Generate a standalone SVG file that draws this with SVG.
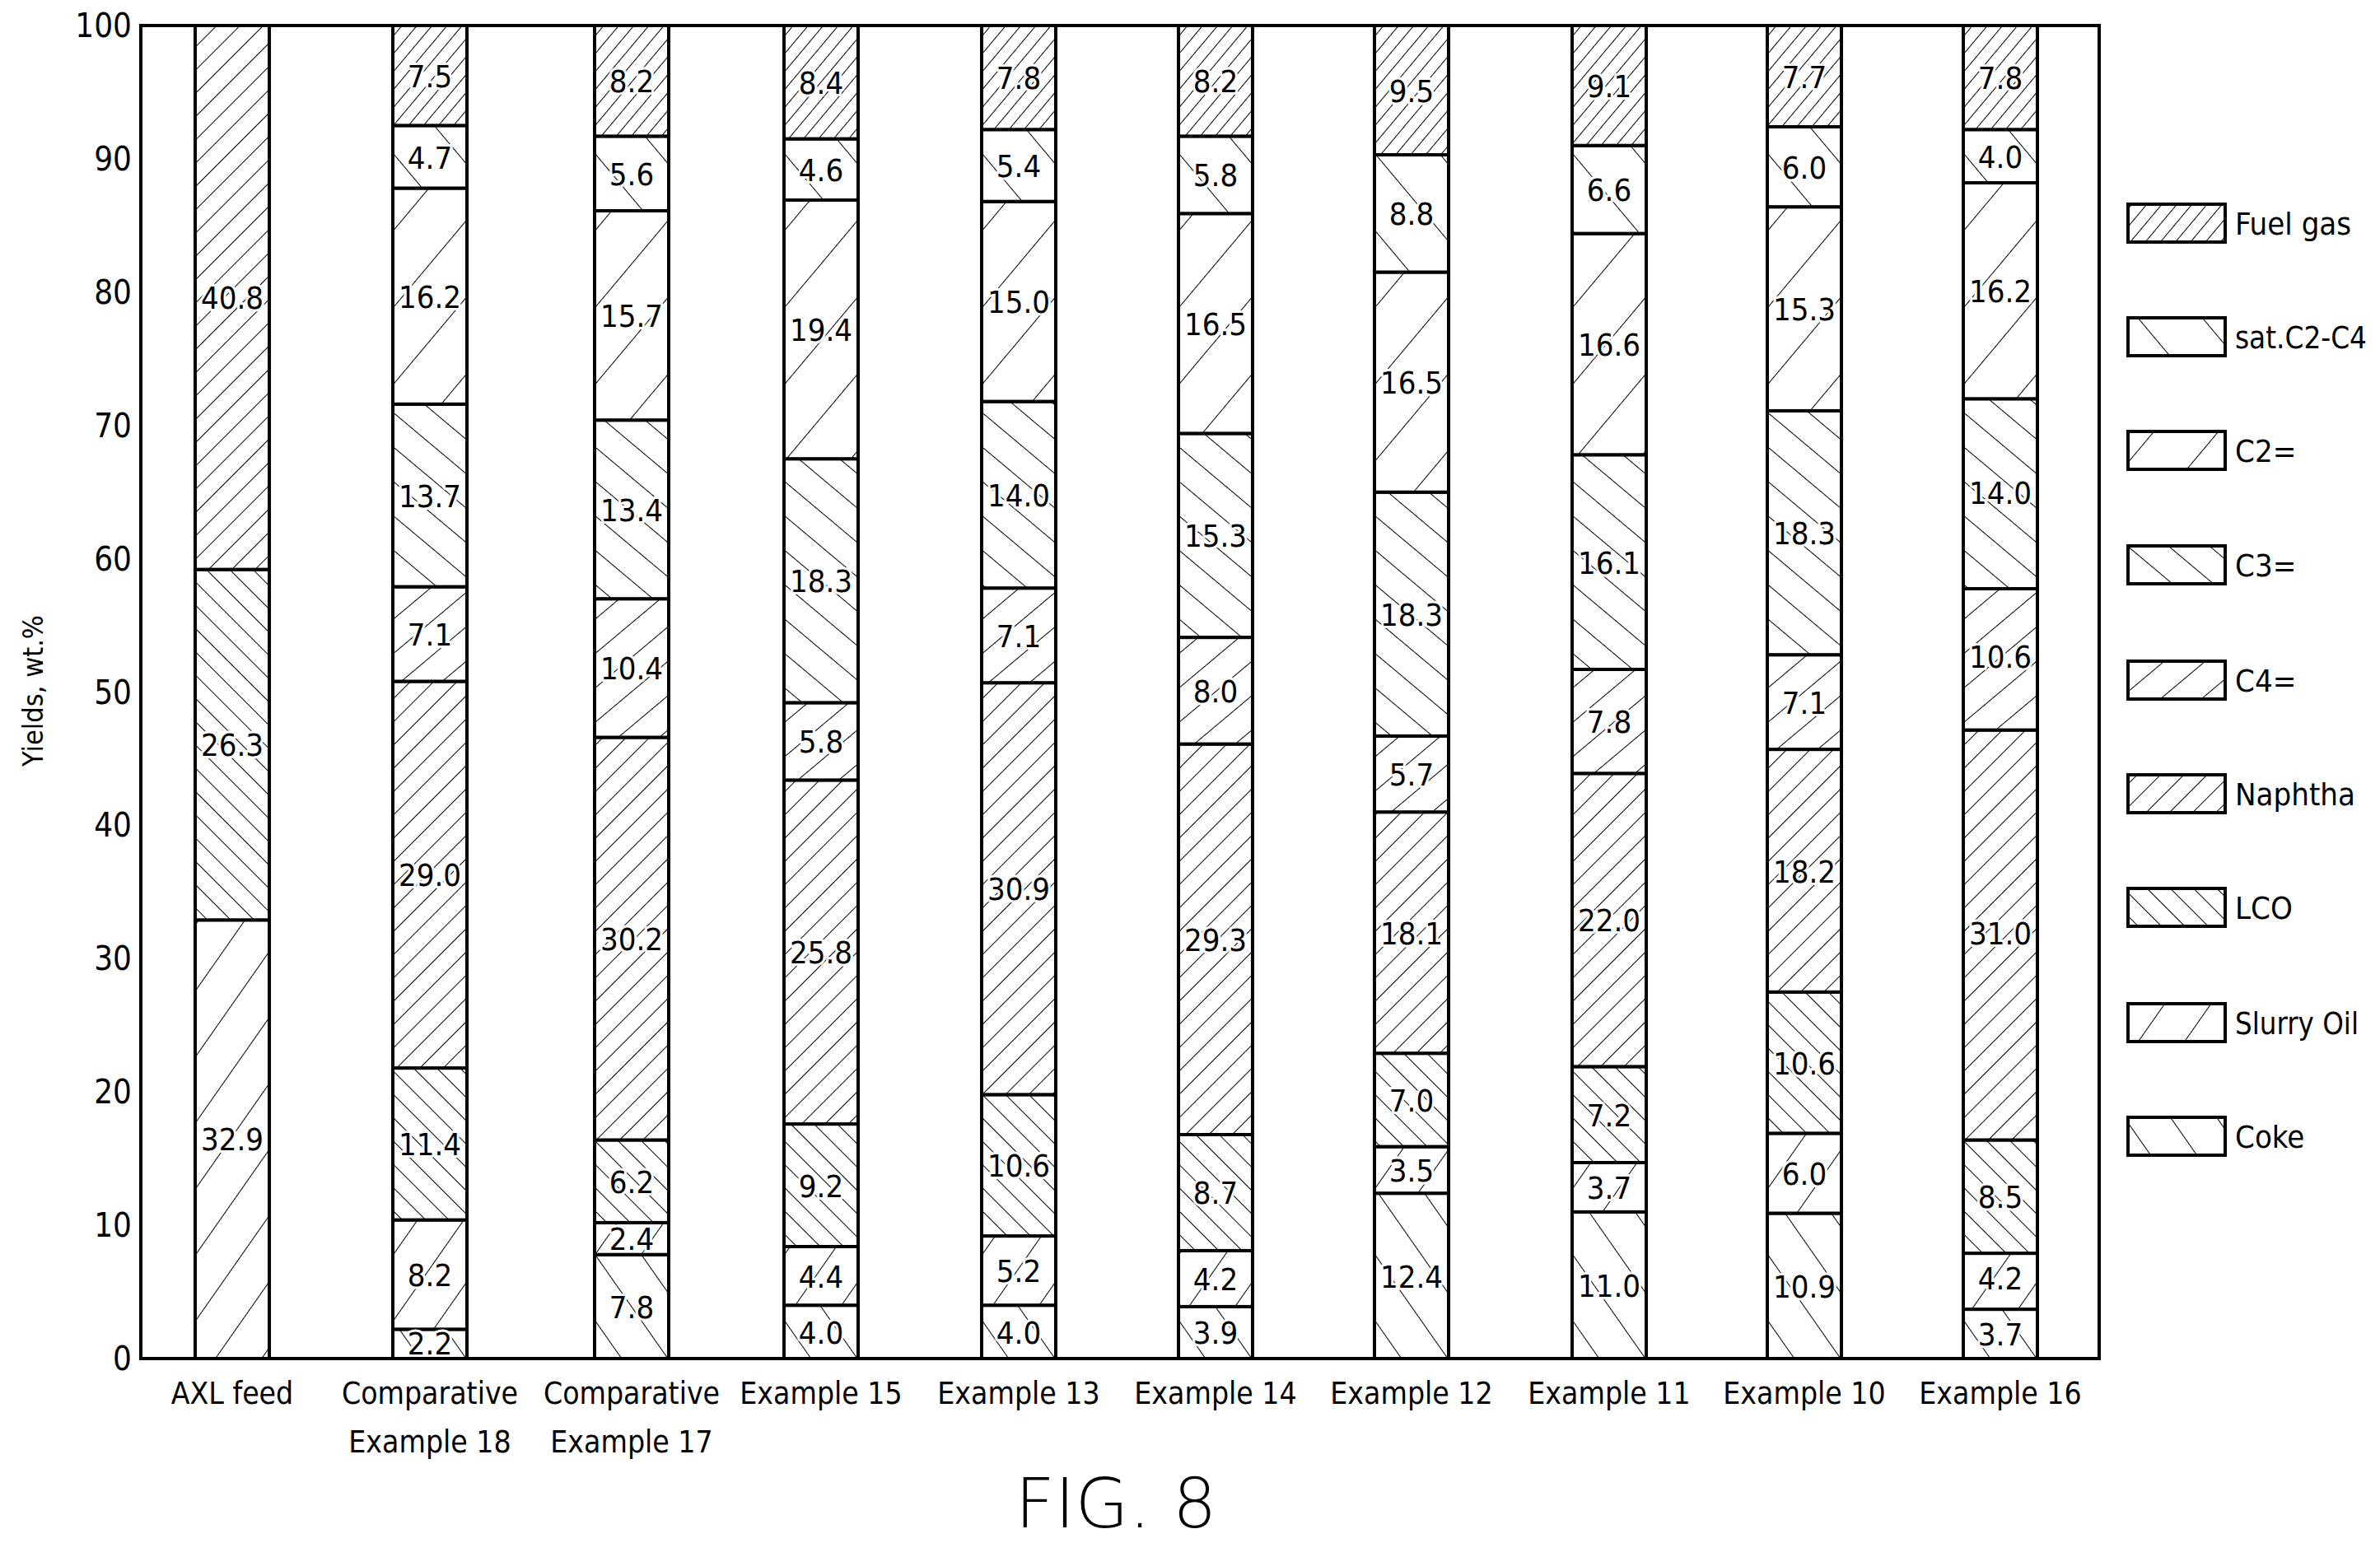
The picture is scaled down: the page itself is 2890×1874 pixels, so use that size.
<svg xmlns="http://www.w3.org/2000/svg" width="2890" height="1874" viewBox="0 0 2890 1874">
<style>
text{font-family:"DejaVu Sans Condensed","DejaVu Sans",sans-serif;font-stretch:condensed;fill:#000}
.v{font-size:38px;text-anchor:middle;stroke:#fff;stroke-width:6px;paint-order:stroke;stroke-linejoin:round}
.t{font-size:40px;text-anchor:end}
.x{font-size:37px;text-anchor:middle}
.l{font-size:38px}
.s{stroke:#000;stroke-width:4}
.fg{fill:url(#pfg)}.sat{fill:url(#psat)}.c2{fill:url(#pc2)}.c3{fill:url(#pc3)}.c4{fill:url(#pc4)}.na{fill:url(#pna)}.lco{fill:url(#plco)}.so{fill:url(#pso)}.ck{fill:url(#pck)}
.hl{stroke:#000;stroke-width:2}
</style>
<defs>
<pattern id="pfg" width="14" height="14" patternUnits="userSpaceOnUse" patternTransform="rotate(40)"><rect width="14" height="14" fill="#fff"/><line class="hl" x1="0" y1="0" x2="0" y2="14"/></pattern>
<pattern id="psat" width="60" height="60" patternUnits="userSpaceOnUse" patternTransform="rotate(-40)"><rect width="60" height="60" fill="#fff"/><line class="hl" x1="0" y1="0" x2="0" y2="60"/></pattern>
<pattern id="pc2" width="60" height="60" patternUnits="userSpaceOnUse" patternTransform="rotate(40)"><rect width="60" height="60" fill="#fff"/><line class="hl" x1="0" y1="0" x2="0" y2="60"/></pattern>
<pattern id="pc3" width="32" height="32" patternUnits="userSpaceOnUse" patternTransform="rotate(-50)"><rect width="32" height="32" fill="#fff"/><line class="hl" x1="0" y1="0" x2="0" y2="32"/></pattern>
<pattern id="pc4" width="32" height="32" patternUnits="userSpaceOnUse" patternTransform="rotate(50)"><rect width="32" height="32" fill="#fff"/><line class="hl" x1="0" y1="0" x2="0" y2="32"/></pattern>
<pattern id="pna" width="20" height="20" patternUnits="userSpaceOnUse" patternTransform="rotate(45)"><rect width="20" height="20" fill="#fff"/><line class="hl" x1="0" y1="0" x2="0" y2="20"/></pattern>
<pattern id="plco" width="20" height="20" patternUnits="userSpaceOnUse" patternTransform="rotate(-45)"><rect width="20" height="20" fill="#fff"/><line class="hl" x1="0" y1="0" x2="0" y2="20"/></pattern>
<pattern id="pso" width="46" height="46" patternUnits="userSpaceOnUse" patternTransform="rotate(35)"><rect width="46" height="46" fill="#fff"/><line class="hl" x1="0" y1="0" x2="0" y2="46"/></pattern>
<pattern id="pck" width="46" height="46" patternUnits="userSpaceOnUse" patternTransform="rotate(-35)"><rect width="46" height="46" fill="#fff"/><line class="hl" x1="0" y1="0" x2="0" y2="46"/></pattern>
</defs>
<rect width="2890" height="1874" fill="#fff"/>
<g id="axes">
<rect class="s" x="171" y="31" width="2378" height="1619" fill="none"/>
<text class="t" x="160" y="1664">0</text>
<text class="t" x="160" y="1502">10</text>
<text class="t" x="160" y="1340">20</text>
<text class="t" x="160" y="1178">30</text>
<text class="t" x="160" y="1016">40</text>
<text class="t" x="160" y="855">50</text>
<text class="t" x="160" y="693">60</text>
<text class="t" x="160" y="531">70</text>
<text class="t" x="160" y="369">80</text>
<text class="t" x="160" y="207">90</text>
<text class="t" x="160" y="45">100</text>
<text x="52" y="839" font-size="34" text-anchor="middle" transform="rotate(-90 52 839)">Yields, wt.%</text>
</g>
<g id="bar-axl" transform="translate(237,0)">
<rect class="s so" x="0" y="1117.3" width="90" height="532.7"/>
<rect class="s lco" x="0" y="691.6" width="90" height="425.7"/>
<rect class="s na" x="0" y="31" width="90" height="660.6"/>
<text class="v" x="45" y="1397">32.9</text><text class="v" x="45" y="918">26.3</text><text class="v" x="45" y="375">40.8</text>
<text class="x" x="45" y="1705">AXL feed</text>
</g>
<g id="bar-ce18" transform="translate(477,0)">
<rect class="s ck" x="0" y="1614.4" width="90" height="35.6"/>
<rect class="s so" x="0" y="1481.6" width="90" height="132.8"/>
<rect class="s lco" x="0" y="1297.1" width="90" height="184.5"/>
<rect class="s na" x="0" y="827.5" width="90" height="469.6"/>
<rect class="s c4" x="0" y="712.6" width="90" height="114.9"/>
<rect class="s c3" x="0" y="490.8" width="90" height="221.8"/>
<rect class="s c2" x="0" y="228.5" width="90" height="262.3"/>
<rect class="s sat" x="0" y="152.4" width="90" height="76.1"/>
<rect class="s fg" x="0" y="31" width="90" height="121.4"/>
<text class="v" x="45" y="1645">2.2</text><text class="v" x="45" y="1562">8.2</text><text class="v" x="45" y="1403">11.4</text><text class="v" x="45" y="1076">29.0</text><text class="v" x="45" y="784">7.1</text><text class="v" x="45" y="616">13.7</text><text class="v" x="45" y="374">16.2</text><text class="v" x="45" y="205">4.7</text><text class="v" x="45" y="106">7.5</text>
<text class="x" x="45" y="1705">Comparative</text><text class="x" x="45" y="1764">Example 18</text>
</g>
<g id="bar-ce17" transform="translate(722,0)">
<rect class="s ck" x="0" y="1523.7" width="90" height="126.3"/>
<rect class="s so" x="0" y="1484.9" width="90" height="38.8"/>
<rect class="s lco" x="0" y="1384.5" width="90" height="100.4"/>
<rect class="s na" x="0" y="895.5" width="90" height="489"/>
<rect class="s c4" x="0" y="727.2" width="90" height="168.3"/>
<rect class="s c3" x="0" y="510.2" width="90" height="217"/>
<rect class="s c2" x="0" y="256" width="90" height="254.2"/>
<rect class="s sat" x="0" y="165.4" width="90" height="90.6"/>
<rect class="s fg" x="0" y="31" width="90" height="134.4"/>
<text class="v" x="45" y="1601">7.8</text><text class="v" x="45" y="1518">2.4</text><text class="v" x="45" y="1449">6.2</text><text class="v" x="45" y="1154">30.2</text><text class="v" x="45" y="825">10.4</text><text class="v" x="45" y="633">13.4</text><text class="v" x="45" y="397">15.7</text><text class="v" x="45" y="225">5.6</text><text class="v" x="45" y="112">8.2</text>
<text class="x" x="45" y="1705">Comparative</text><text class="x" x="45" y="1764">Example 17</text>
</g>
<g id="bar-ex15" transform="translate(952,0)">
<rect class="s ck" x="0" y="1585.2" width="90" height="64.8"/>
<rect class="s so" x="0" y="1514" width="90" height="71.2"/>
<rect class="s lco" x="0" y="1365.1" width="90" height="148.9"/>
<rect class="s na" x="0" y="947.4" width="90" height="417.7"/>
<rect class="s c4" x="0" y="853.4" width="90" height="94"/>
<rect class="s c3" x="0" y="557.2" width="90" height="296.2"/>
<rect class="s c2" x="0" y="243" width="90" height="314.2"/>
<rect class="s sat" x="0" y="168.6" width="90" height="74.4"/>
<rect class="s fg" x="0" y="31" width="90" height="137.6"/>
<text class="v" x="45" y="1632">4.0</text><text class="v" x="45" y="1564">4.4</text><text class="v" x="45" y="1454">9.2</text><text class="v" x="45" y="1170">25.8</text><text class="v" x="45" y="914">5.8</text><text class="v" x="45" y="719">18.3</text><text class="v" x="45" y="414">19.4</text><text class="v" x="45" y="220">4.6</text><text class="v" x="45" y="114">8.4</text>
<text class="x" x="45" y="1705">Example 15</text>
</g>
<g id="bar-ex13" transform="translate(1192,0)">
<rect class="s ck" x="0" y="1585.2" width="90" height="64.8"/>
<rect class="s so" x="0" y="1501.1" width="90" height="84.1"/>
<rect class="s lco" x="0" y="1329.4" width="90" height="171.7"/>
<rect class="s na" x="0" y="829.2" width="90" height="500.2"/>
<rect class="s c4" x="0" y="714.2" width="90" height="115"/>
<rect class="s c3" x="0" y="487.6" width="90" height="226.6"/>
<rect class="s c2" x="0" y="244.7" width="90" height="242.9"/>
<rect class="s sat" x="0" y="157.3" width="90" height="87.4"/>
<rect class="s fg" x="0" y="31" width="90" height="126.3"/>
<text class="v" x="45" y="1632">4.0</text><text class="v" x="45" y="1557">5.2</text><text class="v" x="45" y="1429">10.6</text><text class="v" x="45" y="1093">30.9</text><text class="v" x="45" y="786">7.1</text><text class="v" x="45" y="615">14.0</text><text class="v" x="45" y="380">15.0</text><text class="v" x="45" y="215">5.4</text><text class="v" x="45" y="108">7.8</text>
<text class="x" x="45" y="1705">Example 13</text>
</g>
<g id="bar-ex14" transform="translate(1431,0)">
<rect class="s ck" x="0" y="1586.9" width="90" height="63.1"/>
<rect class="s so" x="0" y="1518.9" width="90" height="68"/>
<rect class="s lco" x="0" y="1378" width="90" height="140.9"/>
<rect class="s na" x="0" y="903.6" width="90" height="474.4"/>
<rect class="s c4" x="0" y="774.1" width="90" height="129.5"/>
<rect class="s c3" x="0" y="526.4" width="90" height="247.7"/>
<rect class="s c2" x="0" y="259.3" width="90" height="267.1"/>
<rect class="s sat" x="0" y="165.4" width="90" height="93.9"/>
<rect class="s fg" x="0" y="31" width="90" height="134.4"/>
<text class="v" x="45" y="1632">3.9</text><text class="v" x="45" y="1567">4.2</text><text class="v" x="45" y="1462">8.7</text><text class="v" x="45" y="1155">29.3</text><text class="v" x="45" y="853">8.0</text><text class="v" x="45" y="664">15.3</text><text class="v" x="45" y="407">16.5</text><text class="v" x="45" y="226">5.8</text><text class="v" x="45" y="112">8.2</text>
<text class="x" x="45" y="1705">Example 14</text>
</g>
<g id="bar-ex12" transform="translate(1669,0)">
<rect class="s ck" x="0" y="1449.2" width="90" height="200.8"/>
<rect class="s so" x="0" y="1392.6" width="90" height="56.6"/>
<rect class="s lco" x="0" y="1279.2" width="90" height="113.4"/>
<rect class="s na" x="0" y="986.2" width="90" height="293"/>
<rect class="s c4" x="0" y="893.9" width="90" height="92.3"/>
<rect class="s c3" x="0" y="597.7" width="90" height="296.2"/>
<rect class="s c2" x="0" y="330.5" width="90" height="267.2"/>
<rect class="s sat" x="0" y="188" width="90" height="142.5"/>
<rect class="s fg" x="0" y="31" width="90" height="157"/>
<text class="v" x="45" y="1564">12.4</text><text class="v" x="45" y="1435">3.5</text><text class="v" x="45" y="1350">7.0</text><text class="v" x="45" y="1147">18.1</text><text class="v" x="45" y="954">5.7</text><text class="v" x="45" y="760">18.3</text><text class="v" x="45" y="478">16.5</text><text class="v" x="45" y="273">8.8</text><text class="v" x="45" y="124">9.5</text>
<text class="x" x="45" y="1705">Example 12</text>
</g>
<g id="bar-ex11" transform="translate(1909,0)">
<rect class="s ck" x="0" y="1471.9" width="90" height="178.1"/>
<rect class="s so" x="0" y="1412" width="90" height="59.9"/>
<rect class="s lco" x="0" y="1295.4" width="90" height="116.6"/>
<rect class="s na" x="0" y="939.3" width="90" height="356.1"/>
<rect class="s c4" x="0" y="813" width="90" height="126.3"/>
<rect class="s c3" x="0" y="552.3" width="90" height="260.7"/>
<rect class="s c2" x="0" y="283.6" width="90" height="268.7"/>
<rect class="s sat" x="0" y="176.7" width="90" height="106.9"/>
<rect class="s fg" x="0" y="31" width="90" height="145.7"/>
<text class="v" x="45" y="1575">11.0</text><text class="v" x="45" y="1456">3.7</text><text class="v" x="45" y="1368">7.2</text><text class="v" x="45" y="1131">22.0</text><text class="v" x="45" y="890">7.8</text><text class="v" x="45" y="697">16.1</text><text class="v" x="45" y="432">16.6</text><text class="v" x="45" y="244">6.6</text><text class="v" x="45" y="118">9.1</text>
<text class="x" x="45" y="1705">Example 11</text>
</g>
<g id="bar-ex10" transform="translate(2146,0)">
<rect class="s ck" x="0" y="1473.5" width="90" height="176.5"/>
<rect class="s so" x="0" y="1376.4" width="90" height="97.1"/>
<rect class="s lco" x="0" y="1204.8" width="90" height="171.6"/>
<rect class="s na" x="0" y="910.1" width="90" height="294.7"/>
<rect class="s c4" x="0" y="795.2" width="90" height="114.9"/>
<rect class="s c3" x="0" y="498.9" width="90" height="296.3"/>
<rect class="s c2" x="0" y="251.2" width="90" height="247.7"/>
<rect class="s sat" x="0" y="154" width="90" height="97.2"/>
<rect class="s fg" x="0" y="31" width="90" height="123"/>
<text class="v" x="45" y="1576">10.9</text><text class="v" x="45" y="1439">6.0</text><text class="v" x="45" y="1305">10.6</text><text class="v" x="45" y="1072">18.2</text><text class="v" x="45" y="867">7.1</text><text class="v" x="45" y="661">18.3</text><text class="v" x="45" y="389">15.3</text><text class="v" x="45" y="217">6.0</text><text class="v" x="45" y="107">7.7</text>
<text class="x" x="45" y="1705">Example 10</text>
</g>
<g id="bar-ex16" transform="translate(2384,0)">
<rect class="s ck" x="0" y="1590.1" width="90" height="59.9"/>
<rect class="s so" x="0" y="1522.1" width="90" height="68"/>
<rect class="s lco" x="0" y="1384.5" width="90" height="137.6"/>
<rect class="s na" x="0" y="886.6" width="90" height="497.9"/>
<rect class="s c4" x="0" y="715" width="90" height="171.6"/>
<rect class="s c3" x="0" y="484.3" width="90" height="230.7"/>
<rect class="s c2" x="0" y="222" width="90" height="262.3"/>
<rect class="s sat" x="0" y="157.3" width="90" height="64.7"/>
<rect class="s fg" x="0" y="31" width="90" height="126.3"/>
<text class="v" x="45" y="1634">3.7</text><text class="v" x="45" y="1566">4.2</text><text class="v" x="45" y="1467">8.5</text><text class="v" x="45" y="1147">31.0</text><text class="v" x="45" y="811">10.6</text><text class="v" x="45" y="612">14.0</text><text class="v" x="45" y="367">16.2</text><text class="v" x="45" y="204">4.0</text><text class="v" x="45" y="108">7.8</text>
<text class="x" x="45" y="1705">Example 16</text>
</g>
<g id="legend">
<rect class="s fg" x="2584" y="248" width="118" height="46"/><text class="l" x="2714" y="285">Fuel gas</text>
<rect class="s sat" x="2584" y="386" width="118" height="46"/><text class="l" x="2714" y="423" textLength="160" lengthAdjust="spacingAndGlyphs">sat.C2-C4</text>
<rect class="s c2" x="2584" y="524" width="118" height="46"/><text class="l" x="2714" y="561">C2=</text>
<rect class="s c3" x="2584" y="663" width="118" height="46"/><text class="l" x="2714" y="700">C3=</text>
<rect class="s c4" x="2584" y="803" width="118" height="46"/><text class="l" x="2714" y="840">C4=</text>
<rect class="s na" x="2584" y="941" width="118" height="46"/><text class="l" x="2714" y="978">Naphtha</text>
<rect class="s lco" x="2584" y="1079" width="118" height="46"/><text class="l" x="2714" y="1116">LCO</text>
<rect class="s so" x="2584" y="1219" width="118" height="46"/><text class="l" x="2714" y="1256" textLength="150" lengthAdjust="spacingAndGlyphs">Slurry Oil</text>
<rect class="s ck" x="2584" y="1357" width="118" height="46"/><text class="l" x="2714" y="1394">Coke</text>
</g>
<text x="1355" y="1855" font-size="84" text-anchor="middle" style="font-family:'DejaVu Sans','Liberation Sans',sans-serif;font-weight:300">FIG. 8</text>
</svg>
